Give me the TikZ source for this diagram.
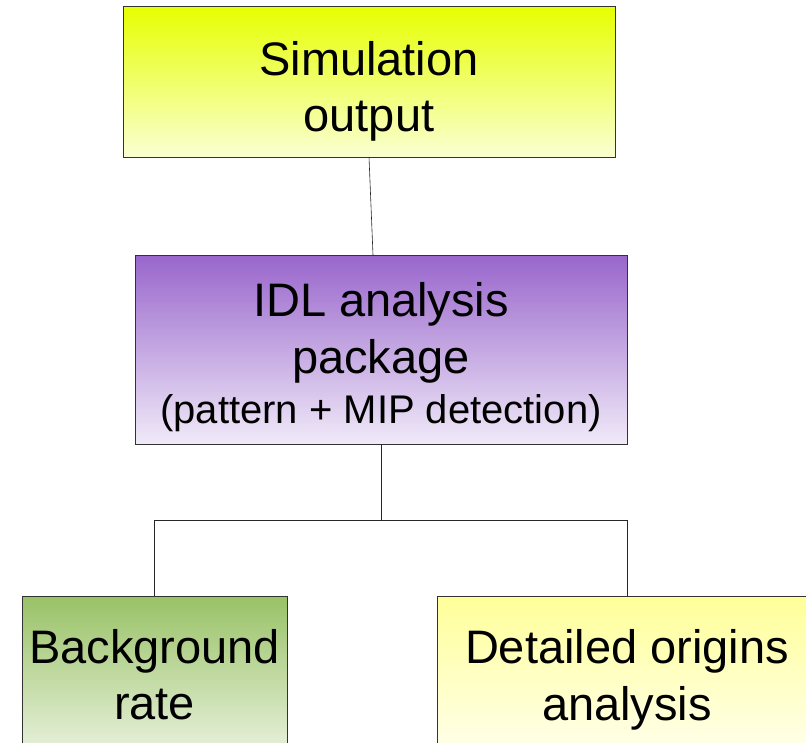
\documentclass[tikz,border=0pt]{standalone}
\usepackage{fontspec}
\setmainfont{Liberation Sans}
\definecolor{simtop}{HTML}{E6FF00}
\definecolor{simbot}{HTML}{FAFFD2}
\definecolor{idltop}{HTML}{9966CC}
\definecolor{idlbot}{HTML}{F0EAF8}
\definecolor{bgtop}{HTML}{99C266}
\definecolor{bgbot}{HTML}{EEF5E6}
\definecolor{dettop}{HTML}{FFFF99}
\definecolor{detbot}{HTML}{FFFFF2}
\begin{document}
\begin{tikzpicture}[x=1pt,y=1pt,
  box/.style={draw=black!80, line width=0.8pt, inner sep=0pt, outer sep=0pt, anchor=north west},
  big/.style={font=\fontsize{47}{56}\selectfont, anchor=base, inner sep=0pt},
  small/.style={font=\fontsize{40}{48}\selectfont, anchor=base, inner sep=0pt},
  wire/.style={draw=black!85, line width=0.6pt}]
\useasboundingbox (0,0) rectangle (806,-742);
\clip (0,0) rectangle (806,-742);
% boxes
\node[box, top color=simtop, bottom color=simbot, minimum width=492pt, minimum height=151pt] (sim) at (123,-6) {};
\node[box, top color=idltop, bottom color=idlbot, minimum width=492pt, minimum height=189pt] (idl) at (135,-255) {};
\node[box, top color=bgtop, bottom color=bgbot, minimum width=265pt, minimum height=170pt] (bg) at (22,-596) {};
\node[box, top color=dettop, bottom color=detbot, minimum width=381pt, minimum height=170pt] (det) at (437,-596) {};
% texts
\node[big] (simA) at (369,-75) {Simulation};
\node[big] (simB) at (369,-131) {output};
\node[big] (idlA) at (381,-316) {IDL analysis};
\node[big] (idlB) at (381,-373) {package};
\node[small] (idlC) at (381,-423) {(pattern + MIP detection)};
\node[big] (bgA) at (154.5,-663) {Background};
\node[big] (bgB) at (154.5,-719) {rate};
\node[big] (detA) at (627,-663) {Detailed origins};
\node[big] (detB) at (627,-720) {analysis};
% connectors
\coordinate (split) at ([yshift=-76pt]idl.south);
\draw[wire] (sim.south) -- ([xshift=-8pt]idl.north);
\draw[wire] (idl.south) -- (split);
\draw[wire] (split) -| (bg.north);
\draw[wire] (split) -| (det.north);
\end{tikzpicture}
\end{document}
